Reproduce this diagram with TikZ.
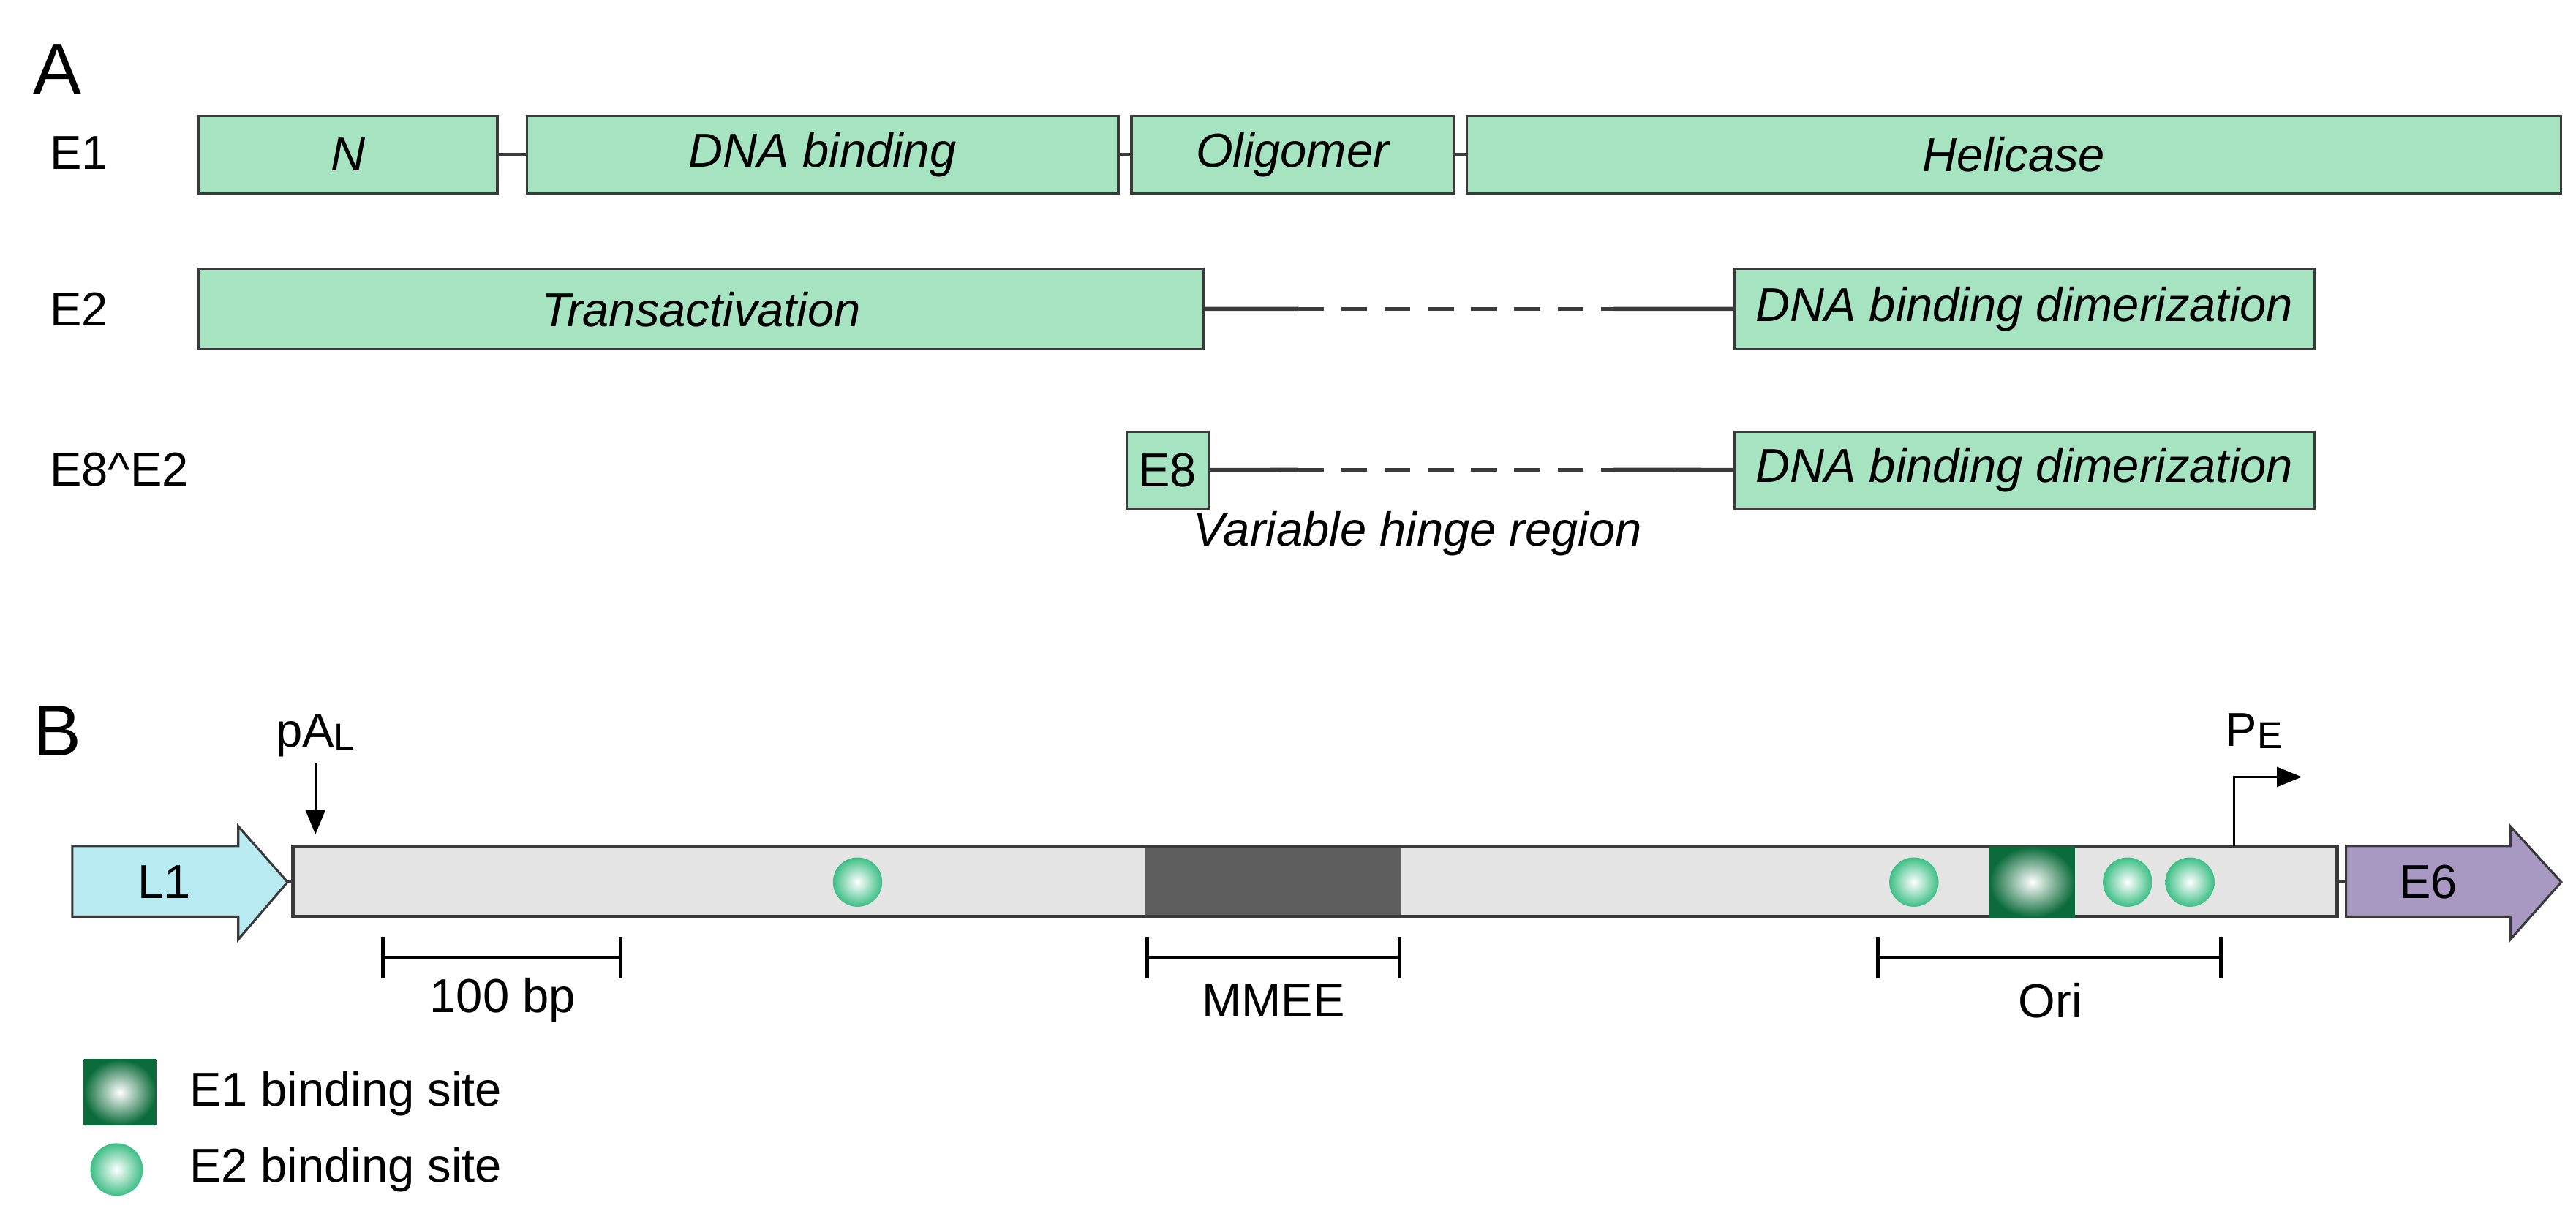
\documentclass[tikz,border=0pt]{standalone}
\usepackage{fontspec}
\setmainfont{Liberation Sans}
\usepackage{tikz}
\usetikzlibrary{arrows.meta, positioning, shapes}
\definecolor{domgreen}{HTML}{A6E3C0}
\definecolor{edgegrey}{HTML}{3A3A3A}
\definecolor{bargrey}{HTML}{E4E4E4}
\definecolor{mmgrey}{HTML}{5E5E5E}
\definecolor{lone}{HTML}{B8EAF2}
\definecolor{esix}{HTML}{A899C2}
\definecolor{ballgreen}{HTML}{3DBE86}
\definecolor{sqgreen}{HTML}{0B6B3A}
\begin{document}
\begin{tikzpicture}[
    x=0.02cm, y=-0.02cm,
    txt/.style={font=\fontsize{16.5}{19}\selectfont, inner sep=0pt},
    dom/.style={rectangle, draw=edgegrey, fill=domgreen, line width=0.8pt, inner sep=0pt, font=\fontsize{16.5}{19}\selectfont\itshape},
    link/.style={line width=1.4pt, draw=edgegrey},
    dlink/.style={link, dash pattern=on 9pt off 6pt},
    panel/.style={font=\fontsize{25}{28}\selectfont, inner sep=0pt},
    scalebar/.style={line width=1.3pt, {|[width=5mm]}-{|[width=5mm]}},
    site/.style={circle, minimum size=30*0.02cm, inner sep=0pt, inner color=white, outer color=ballgreen},
    esite/.style={rectangle, minimum width=52*0.02cm, minimum height=43*0.02cm, inner sep=0pt, inner color=white, outer color=sqgreen},
    arrow/.style={-{Triangle[length=3mm,width=2.4mm]}, line width=0.8pt}
  ]
    \useasboundingbox (0,0) rectangle (1568,737);
    % panel A
    \node[panel] (pa) at (35,42) {A};
    \node[txt, anchor=west] (e1) at (30,93) {E1};
    \node[dom, minimum width=182*0.02cm, minimum height=47*0.02cm, anchor=north west] (n) at (120,70) {N};
    \node[dom, minimum width=360*0.02cm, minimum height=47*0.02cm, anchor=north west] (dbd) at (320,70) {DNA binding};
    \node[dom, minimum width=196*0.02cm, minimum height=47*0.02cm, anchor=north west] (olig) at (688,70) {Oligomer};
    \node[dom, minimum width=666*0.02cm, minimum height=47*0.02cm, anchor=north west] (hel) at (892,70) {Helicase};
    \draw[link] (n) -- (dbd);
    \draw[link] (dbd) -- (olig);
    \draw[link] (olig) -- (hel);

    \node[txt, anchor=west] (e2) at (30,188) {E2};
    \node[dom, minimum width=612*0.02cm, minimum height=49*0.02cm, anchor=north west] (ta) at (120,163) {Transactivation};
    \node[dom, minimum width=353*0.02cm, minimum height=49*0.02cm, anchor=north west] (dbdd) at (1055,163) {DNA binding dimerization};
    \coordinate (h1) at (790,188);
    \coordinate (h2) at (982,188);
    \draw[link] (ta) -- (h1);
    \draw[dlink] (h1) -- (h2);
    \draw[link] (h2) -- (dbdd);

    \node[txt, anchor=west] (e8e2) at (30,286) {E8\textasciicircum E2};
    \node[dom, font=\fontsize{16.5}{19}\selectfont, minimum width=50*0.02cm, minimum height=47*0.02cm, anchor=north west] (e8) at (685,262) {E8};
    \node[dom, minimum width=353*0.02cm, minimum height=47*0.02cm, anchor=north west] (dbde) at (1055,262) {DNA binding dimerization};
    \coordinate (g1) at (790,286);
    \coordinate (g2) at (982,286);
    \draw[link] (e8) -- (g1);
    \draw[dlink] (g1) -- (g2);
    \draw[link] (g2) -- (dbde);
    \node[txt, font=\fontsize{16.5}{19}\selectfont\itshape] (hinge) at (863,325) {Variable hinge region};

    % panel B
    \node[panel] (pb) at (35,445) {B};
    \draw[draw=edgegrey, fill=lone, line width=0.8pt] (44,515) -- (145,515) -- (145,503) -- (175,537) -- (145,572) -- (145,558) -- (44,558) -- cycle;
    \node[txt] (l1) at (100,537) {L1};
    \node[rectangle, draw=edgegrey, fill=bargrey, line width=1pt, minimum width=1244*0.02cm, minimum height=43*0.02cm, inner sep=0pt, anchor=west] (genome) at (178,537) {};
    \fill[mmgrey] (697,515) rectangle (853,558);
    \draw[draw=edgegrey, line width=1pt] (178,515) rectangle (1422,558);
    \draw[draw=edgegrey, fill=esix, line width=0.8pt] (1428,515) -- (1528,515) -- (1528,503) -- (1559,537) -- (1528,572) -- (1528,558) -- (1428,558) -- cycle;
    \node[txt] (e6) at (1478,537) {E6};
    \draw[link, line width=1pt] (175,537) -- (178,537);
    \draw[link, line width=1pt] (1422,537) -- (1428,537);

    \node[site] (s1) at (522,537) {};
    \node[site] (s2) at (1165,537) {};
    \node[esite] (s3) at (1237,537) {};
    \node[site] (s4) at (1295,537) {};
    \node[site] (s5) at (1333,537) {};

    \node[txt] (pal) at (192,448) {pA\raisebox{-0.1ex}{\fontsize{13}{15}\selectfont L}};
    \coordinate (paltop) at (192,465);
    \coordinate (palend) at (192,508);
    \draw[arrow] (paltop) -- (palend);
    \coordinate (pebase) at (1360,515);
    \coordinate (pecorner) at (1360,473);
    \coordinate (petip) at (1401,473);
    \draw[arrow] (pebase) -- (pecorner) -- (petip);
    \node[txt] (pe) at (1372,445) {P\raisebox{-0.1ex}{\fontsize{13}{15}\selectfont E}};

    \draw[scalebar] (232,583) -- (379,583);
    \node[txt] (bp) at (306,609) {100 bp};
    \draw[scalebar] (697,583) -- (853,583);
    \node[txt] (mmee) at (775,609) {MMEE};
    \draw[scalebar] (1142,583) -- (1353,583);
    \node[txt] (ori) at (1248,609) {Ori};

    % legend
    \node[esite, minimum width=44*0.02cm, minimum height=40*0.02cm] (k1) at (73,665) {};
    \node[txt, anchor=west] (k1t) at (115,666) {E1 binding site};
    \node[site, minimum size=32*0.02cm] (k2) at (71,712) {};
    \node[txt, anchor=west] (k2t) at (k1t.west |- k2) {E2 binding site};
\end{tikzpicture}
\end{document}
